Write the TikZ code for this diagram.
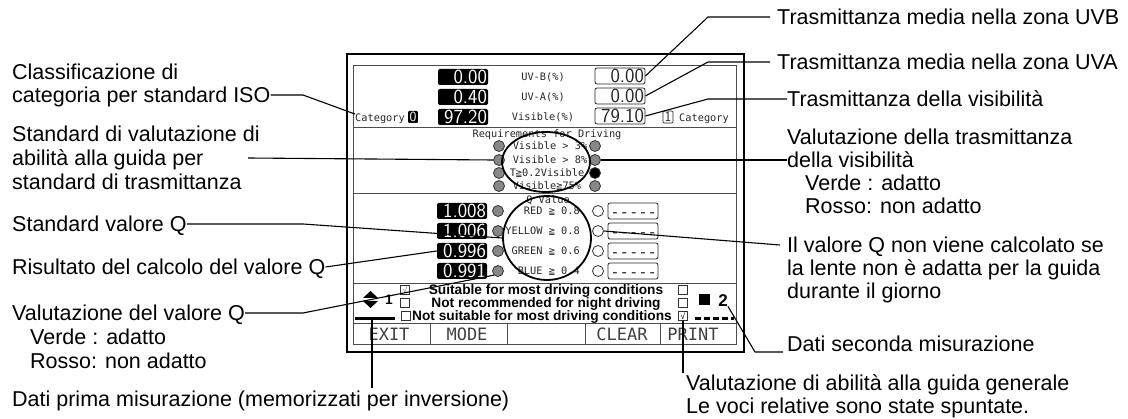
\documentclass[tikz,border=0pt]{standalone}
\usepackage{fontspec}
\setmainfont{Liberation Sans}
\newfontfamily\lcdfont{DejaVu Sans Mono}[Ligatures = TeXOff]
\usetikzlibrary{shapes.geometric}
\newcommand{\nodash}{\mbox{\lcdfont\fontsize{15.5}{15.5}\selectfont -----}}
\tikzset{
  callout/.style = {black, anchor = west, inner sep = 0pt, text height = 15.4pt, text depth = 0pt, font = \fontsize{21.5}{23}\selectfont},
  scrtext/.style = {black!85, inner sep = 0pt, text height = 7.5pt, text depth = 0pt, font = \lcdfont\fontsize{10.3}{10.3}\selectfont},
  bignum/.style = {fill = black, text = white, rounded corners = 2pt, inner xsep = 1pt, inner ysep = 0pt, text width = 48pt, align = right, minimum height = 16pt, text height = 13.9pt, text depth = 0pt, font = \sffamily\fontsize{20}{20}\selectfont},
  litenum/.style = {bignum, fill = white, draw = black!85, text = black!85, line width = 0.8pt},
  catbox/.style = {fill = black, text = white, rounded corners = 1pt, inner xsep = 1.5pt, inner ysep = 0pt, minimum height = 12pt, text height = 9.7pt, text depth = 0pt, font = \sffamily\fontsize{14}{14}\selectfont},
  lamp/.style = {circle, draw = black!80, fill = black!47, line width = 0.8pt, minimum size = 11pt, inner sep = 0pt},
  lampoff/.style = {lamp, fill = white},
  lampon/.style = {lamp, fill = black},
  ring/.style = {ellipse, draw = black, line width = 1.8pt, inner sep = 0pt},
  tickbox/.style = {draw = black!80, line width = 0.7pt, minimum size = 9pt, inner sep = 0pt},
  tick/.style = {inner sep = 0pt, font = \lcdfont\fontsize{8}{8}\selectfont},
  notice/.style = {black, inner sep = 0pt, text height = 9.8pt, text depth = 0pt, font = \bfseries\fontsize{13.7}{13}\selectfont},
  setno/.style = {black, inner sep = 0pt, text height = 12.2pt, text depth = 0pt, font = \bfseries\fontsize{17}{17}\selectfont},
  key/.style = {black!75, inner sep = 0pt, text height = 12.4pt, text depth = 0pt, font = \lcdfont\fontsize{17}{17}\selectfont},
  lead/.style = {black, line width = 1.1pt},
  panel/.style = {black!70, line width = 0.8pt}
}
\begin{document}
\begin{tikzpicture} [x = 1pt, y = -1pt]
\useasboundingbox (0, 0) rectangle (1128, 419);
\draw[line width = 2.4pt] (347, 54) rectangle (744, 352);
\draw[panel] (353, 65) rectangle (736, 344);
\draw[panel] (353, 127) -- (736, 127);
\draw[panel] (353, 193) -- (736, 193);
\draw[panel] (353, 283) -- (736, 283);
\draw[panel] (353, 323) -- (736, 323);
\draw[panel] (430, 323) -- (430, 344);
\draw[panel] (507, 323) -- (507, 344);
\draw[panel] (585, 323) -- (585, 344);
\draw[panel] (660, 323) -- (660, 344);
\node[bignum] (uvbl) at (463, 77) {0.00};
\node[scrtext] (uvbname) at (543, 77) {UV-B(\%)};
\node[litenum] (uvbr) at (620, 76) {0.00};
\node[bignum] (uval) at (463, 97) {0.40};
\node[scrtext] (uvaname) at (543, 97) {UV-A(\%)};
\node[litenum] (uvar) at (620, 96) {0.00};
\node[scrtext] (catl) at (380, 118) {Category};
\node[catbox] (catlnum) at (413, 117) {0};
\node[bignum] (visl) at (463, 117) {97.20};
\node[scrtext] (visname) at (543, 117) {Visible(\%)};
\node[litenum] (visr) at (620, 116) {79.10};
\node[catbox, fill = white, draw = black!85, text = black!85, line width = 0.7pt] (catrnum) at (668, 117) {1};
\node[scrtext] (catr) at (704, 118) {Category};
\node[scrtext] (reqtitle) at (547, 134) {Requirements for Driving};
\node[lamp] (reql1) at (499, 146) {};
\node[lamp] (reql2) at (499, 160) {};
\node[lamp] (reql3) at (499, 173) {};
\node[lamp] (reql4) at (499, 186) {};
\node[scrtext] (req1) at (550, 146) {Visible > 3\%};
\node[scrtext] (req2) at (550, 160) {Visible > 8\%};
\node[scrtext] (req3) at (547, 173) {T≧0.2Visible};
\node[scrtext] (req4) at (547, 186) {Visible≧75\%};
\node[lamp] (reqr1) at (595, 146) {};
\node[lamp] (reqr2) at (595, 160) {};
\node[lampon] (reqr3) at (595, 173) {};
\node[lamp] (reqr4) at (595, 186) {};
\node[ring, minimum width = 88pt, minimum height = 60pt] (reqring) at (546, 162) {};
\node[scrtext] (qtitle) at (548, 200) {Q Value};
\node[bignum] (q1) at (462, 211) {1.008};
\node[bignum] (q2) at (462, 231) {1.006};
\node[bignum] (q3) at (462, 251) {0.996};
\node[bignum] (q4) at (462, 271) {0.991};
\node[lamp] (ql1) at (498, 211) {};
\node[lamp] (ql2) at (498, 231) {};
\node[lamp] (ql3) at (498, 251) {};
\node[lamp] (ql4) at (498, 271) {};
\node[scrtext, anchor = east] (qt1) at (580, 211) {RED ≧ 0.8};
\node[scrtext, anchor = east] (qt2) at (580, 231) {YELLOW ≧ 0.8};
\node[scrtext, anchor = east] (qt3) at (580, 251) {GREEN ≧ 0.6};
\node[scrtext, anchor = east] (qt4) at (580, 271) {BLUE ≧ 0.4};
\node[lampoff] (qr1) at (598, 211) {};
\node[lampoff] (qr2) at (598, 231) {};
\node[lampoff] (qr3) at (598, 251) {};
\node[lampoff] (qr4) at (598, 271) {};
\node[litenum] (qd1) at (633, 211) {\nodash};
\node[litenum] (qd2) at (633, 231) {\nodash};
\node[litenum] (qd3) at (633, 251) {\nodash};
\node[litenum] (qd4) at (633, 271) {\nodash};
\node[ring, minimum width = 88pt, minimum height = 84pt] (qring) at (547, 238) {};
\fill (363, 298) -- (378, 298) -- (370.5, 291) -- cycle;
\fill (363, 301) -- (378, 301) -- (370.5, 308) -- cycle;
\node[notice] (firstno) at (389, 300) {1};
\draw[line width = 3.5pt] (355, 318.5) -- (395, 318.5);
\coordinate (firstmark) at (372, 320);
\node[tickbox] (chkl1) at (405, 290) {};
\node[tickbox] (chkl2) at (405, 303) {};
\node[tickbox] (chkl3) at (406, 316) {};
\node[tick, black!55] at (chkl1) {√};
\node[notice] (cond1) at (546, 290) {Suitable for most driving conditions};
\node[notice] (cond2) at (546, 303) {Not recommended for night driving};
\node[notice] (cond3) at (542, 316) {Not suitable for most driving conditions};
\node[tickbox] (chkr1) at (683, 290) {};
\node[tickbox] (chkr2) at (683, 303) {};
\node[tickbox] (chkr3) at (683, 316) {};
\node[tick, black] at (chkr3) {√};
\node[fill = black, minimum size = 11pt, inner sep = 0pt] (secondsq) at (704, 300) {};
\node[setno] (secondno) at (723, 300) {2};
\draw[line width = 3.5pt, dash pattern = on 6pt off 3pt] (695, 318.5) -- (734, 318.5);
\node[key] (exitkey) at (389, 334) {EXIT};
\node[key] (modekey) at (467, 334) {MODE};
\node[key] (clearkey) at (622, 334) {CLEAR};
\node[key] (printkey) at (693, 334) {PRINT};
\node[callout] (cls1) at (12, 72) {Classificazione di};
\node[callout] (cls2) at (12, 95) {categoria per standard ISO};
\node[callout] (drv1) at (12, 134) {Standard di valutazione di};
\node[callout] (drv2) at (12, 158) {abilità alla guida per};
\node[callout] (drv3) at (12, 182) {standard di trasmittanza};
\node[callout] (qstd) at (12, 224) {Standard valore Q};
\node[callout] (qres) at (12, 267) {Risultato del calcolo del valore Q};
\node[callout] (qeval1) at (12, 313) {Valutazione del valore Q};
\node[callout] (qeval2) at (30, 337) {Verde : adatto};
\node[callout] (qeval3) at (30, 361) {Rosso: non adatto};
\node[callout] (first) at (12, 399) {Dati prima misurazione (memorizzati per inversione)};
\node[callout] (uvbtxt) at (777, 17) {Trasmittanza media nella zona UVB};
\node[callout] (uvatxt) at (777, 62) {Trasmittanza media nella zona UVA};
\node[callout] (vistxt) at (787, 99) {Trasmittanza della visibilità};
\node[callout] (visev1) at (787, 137) {Valutazione della trasmittanza};
\node[callout] (visev2) at (787, 160) {della visibilità};
\node[callout] (visev3) at (805, 183) {Verde : adatto};
\node[callout] (visev4) at (805, 206) {Rosso: non adatto};
\node[callout] (qnote1) at (787, 245) {Il valore Q non viene calcolato se};
\node[callout] (qnote2) at (787, 268) {la lente non è adatta per la guida};
\node[callout] (qnote3) at (787, 291) {durante il giorno};
\node[callout] (second) at (787, 344) {Dati seconda misurazione};
\node[callout] (overall1) at (686, 383) {Valutazione di abilità alla guida generale};
\node[callout] (overall2) at (686, 406) {Le voci relative sono state spuntate.};
\coordinate (drvfoot) at (248, 158);
\coordinate (secondfoot) at (783, 352);
\draw[lead] (uvbr.east) -- (708, 17) -- ([xshift = -7pt]uvbtxt.west);
\draw[lead] (uvar.east) -- (708, 62) -- ([xshift = -7pt]uvatxt.west);
\draw[lead] (visr.east) -- (708, 99) -- (vistxt.west);
\draw[lead] (reqr2.east) -- (reqr2.east -| visev2.west);
\draw[lead] (cls2.east) -- (303, 95) -- (catl.north west);
\draw[lead] (drvfoot) -- (reql2.west);
\draw[lead] (qstd.east) -- (303, 224) -- (qring.west);
\draw[lead] (qres.east) -- (q3.west);
\draw[lead] (qeval1.east) -- (303, 313) -- (ql4.south west);
\draw[lead] (qr2.east) -- ([xshift = -7pt]qnote1.west);
\draw[lead] (secondno.south east) -- (755, 352) -- (secondfoot);
\draw[lead] (chkr3.south) -- ++(0, 52);
\draw[lead] (firstmark) -- ++(0, 68);
\end{tikzpicture}
\end{document}
